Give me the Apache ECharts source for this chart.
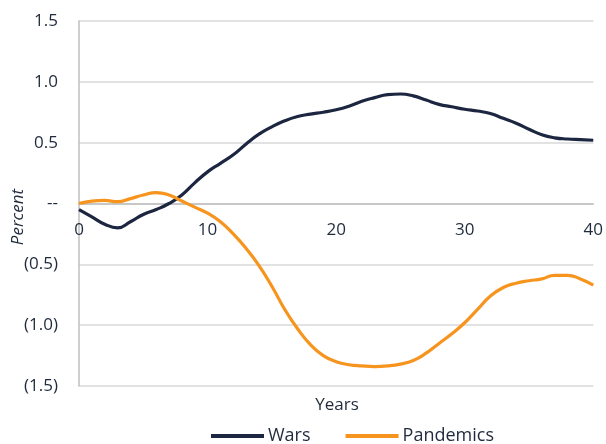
<!DOCTYPE html>
<html>
<head>
<meta charset="utf-8">
<script src="https://cdn.jsdelivr.net/npm/echarts@6/dist/echarts.min.js"></script>
<style>html,body{margin:0;padding:0;background:#fff}#c{width:606px;height:444px}</style>
</head>
<body>
<div id="c"></div>
<script>
var years = [0,1,2,3,4,5,6,7,8,9,10,11,12,13,14,15,16,17,18,19,20,21,22,23,24,25,26,27,28,29,30,31,32,33,34,35,36,37,38,39,40];
var wars = [-0.05,-0.11,-0.17,-0.20,-0.15,-0.09,-0.05,0.00,0.07,0.17,0.26,0.33,0.40,0.49,0.57,0.63,0.68,0.715,0.735,0.75,0.77,0.80,0.84,0.87,0.895,0.90,0.885,0.85,0.815,0.795,0.775,0.76,0.74,0.70,0.66,0.61,0.565,0.54,0.53,0.525,0.52];
var pandemics = [0.00,0.02,0.025,0.015,0.04,0.07,0.09,0.07,0.02,-0.03,-0.08,-0.15,-0.25,-0.37,-0.51,-0.68,-0.87,-1.03,-1.16,-1.25,-1.30,-1.325,-1.335,-1.34,-1.335,-1.32,-1.29,-1.23,-1.15,-1.07,-0.98,-0.87,-0.76,-0.69,-0.655,-0.635,-0.62,-0.59,-0.59,-0.62,-0.67];
var seriesNames = ['Wars','Pandemics'];
var xTitle = 'Years';
var yTitle = 'Percent';

var textColor = '#1f2a3c';
var font = '"Open Sans", sans-serif';
function pairs(v){ return years.map(function(y,i){ return [y, v[i]]; }); }
function yFmt(v){
  if (Math.abs(v) < 1e-9) return '--';
  var s = Math.abs(v).toFixed(1);
  return v < 0 ? '(' + s + ')' : s;
}
var gridTop = 21, gridBottom = 58, H = 444;
var yMin = -1.5, yMax = 1.5;
var plotH = H - gridTop - gridBottom;
var zeroOffset = -plotH * (0 - yMin) / (yMax - yMin);
var chart = echarts.init(document.getElementById('c'));
chart.setOption({
  animation: false,
  grid: {left: 79, right: 12, top: gridTop, bottom: gridBottom, containLabel: false},
  xAxis: {
    type: 'value', min: 0, max: 40, interval: 10,
    position: 'bottom', offset: zeroOffset,
    axisLine: {show: true, onZero: false, lineStyle: {color: '#bfbfbf', width: 1.5}},
    axisTick: {show: false},
    splitLine: {show: false},
    axisLabel: {color: textColor, fontSize: 17, fontFamily: font, margin: 18}
  },
  yAxis: {
    type: 'value', min: yMin, max: yMax, interval: 0.5,
    axisLine: {show: true, lineStyle: {color: '#bfbfbf', width: 1.5}},
    axisTick: {show: false},
    splitLine: {show: true, lineStyle: {color: '#d9d9d9', width: 1.5}},
    axisLabel: {color: textColor, fontSize: 17, fontFamily: font, margin: 21, formatter: yFmt}
  },
  legend: {
    left: 211, top: 427, padding: 0,
    itemWidth: 53, itemHeight: 4, itemGap: 35,
    icon: 'rect',
    textStyle: {color: textColor, fontSize: 18, fontFamily: font, padding: [0,0,0,-1]},
    data: seriesNames
  },
  graphic: [
    {type: 'text', x: 337, y: 405, style: {text: xTitle, fill: textColor, font: '17px ' + font, textAlign: 'center', textVerticalAlign: 'middle'}},
    {type: 'text', x: 18, y: 217, rotation: Math.PI/2, style: {text: yTitle, fill: textColor, font: 'italic 17px ' + font, textAlign: 'center', textVerticalAlign: 'middle'}}
  ],
  series: [
    {name: seriesNames[0], type: 'line', data: pairs(wars), smooth: 0.5, showSymbol: false, symbol: 'none',
     lineStyle: {color: '#1c2640', width: 3.2}, itemStyle: {color: '#1c2640'}},
    {name: seriesNames[1], type: 'line', data: pairs(pandemics), smooth: 0.5, showSymbol: false, symbol: 'none',
     lineStyle: {color: '#f7941d', width: 3.2}, itemStyle: {color: '#f7941d'}}
  ]
});
</script>
</body>
</html>
